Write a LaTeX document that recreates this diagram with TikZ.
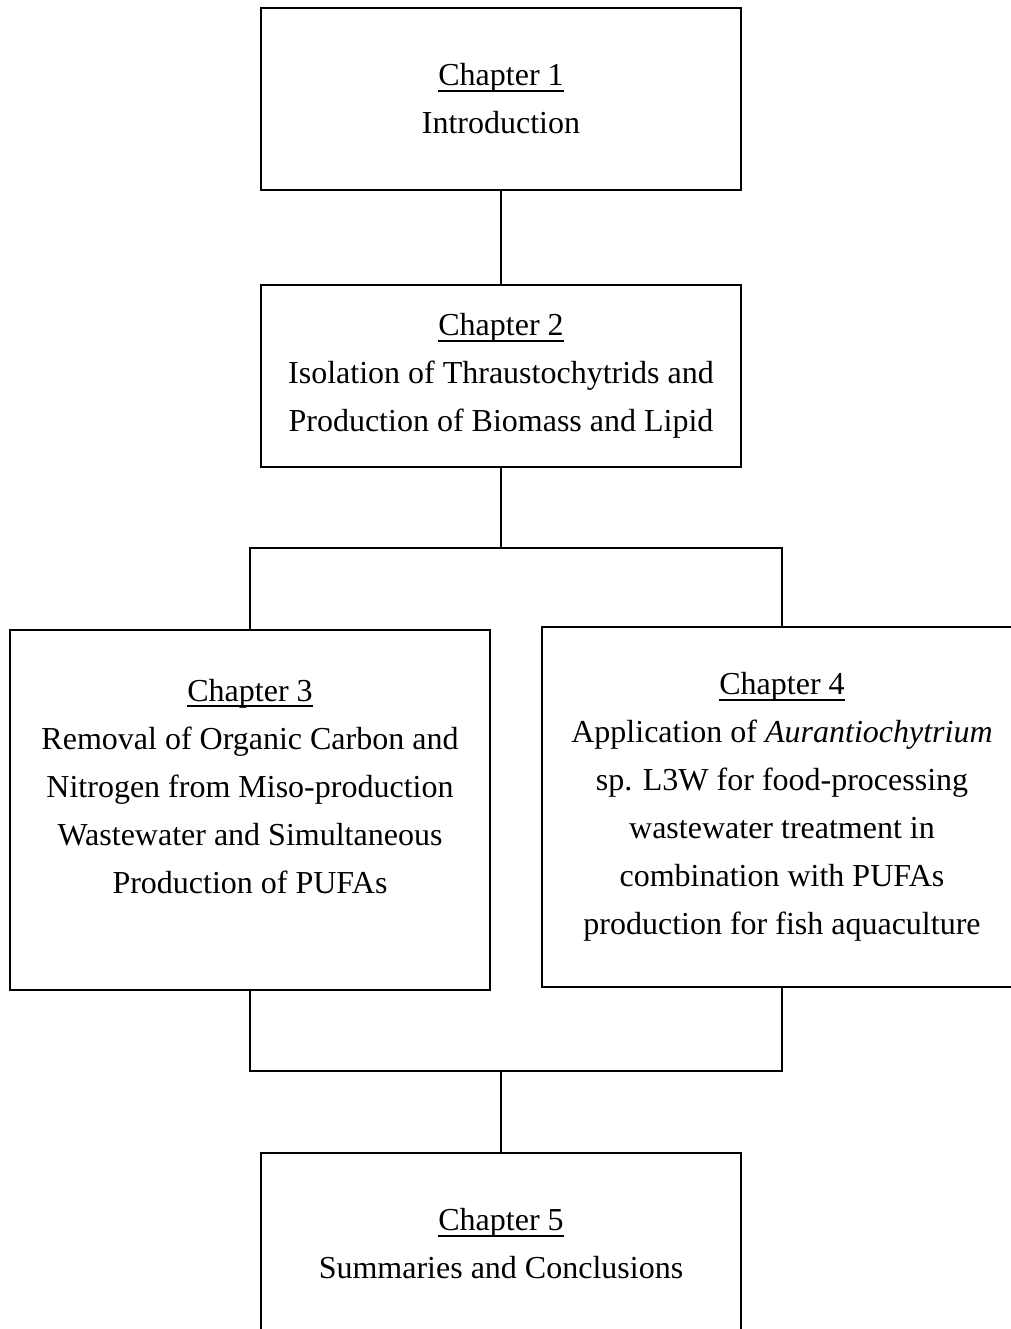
\documentclass[tikz,border=0pt]{standalone}
\usepackage{fontspec}
\setmainfont{Liberation Serif}

\newcommand{\chapline}[1]{\setbox0\hbox{#1}\rlap{\rule[-3pt]{\wd0}{1pt}}\box0}

\tikzset{
  chap/.style={draw, line width=1.25pt, minimum width=240pt, minimum height=91pt,
    inner sep=0pt, align=center, font=\fontsize{16}{24}\selectfont},
  tallchap/.style={chap, minimum height=180pt},
  link/.style={line width=0.75pt}
}

\begin{document}
\begin{tikzpicture} [x=0.5pt, y=-0.5pt]
  \useasboundingbox (0,0) rectangle (1011,1329);
  \clip (0,0) rectangle (1011,1329);
  \path  (501,99)   node[chap](Ch1) {\chapline{Chapter 1}\\ Introduction}
          ++(0,277)   node[chap](Ch2) {\chapline{Chapter 2}\\ Isolation of Thraustochytrids and\\ Production of Biomass and Lipid}
          ++(-251,434)   node[tallchap](Ch3) {\chapline{Chapter 3}\\ Removal of Organic Carbon and\\ Nitrogen from Miso-production\\ Wastewater and Simultaneous\\ Production of PUFAs\\ \mbox{}}
          ++(532,-3)   node[tallchap](Ch4) {\chapline{Chapter 4}\\ Application of \textit{Aurantiochytrium}\\ sp. L3W for food-processing\\ wastewater treatment in\\ combination with PUFAs\\ production for fish aquaculture}
          ++(-281,437)   node[chap](Ch5) {\chapline{Chapter 5}\\ Summaries and Conclusions};
  \coordinate (Split) at (501,548);
  \coordinate (Join) at (501,1071);
  \draw [line width=1.25pt] (Ch1) -- (Ch2);
  \draw [link] (Ch2) -- (Split);
  \draw [link] (Ch3.north) |- (Split) -| (Ch4.north);
  \draw [link] (Ch3.south) |- (Join) -| (Ch4.south);
  \draw [link] (Join) -- (Ch5);
\end{tikzpicture}
\end{document}
